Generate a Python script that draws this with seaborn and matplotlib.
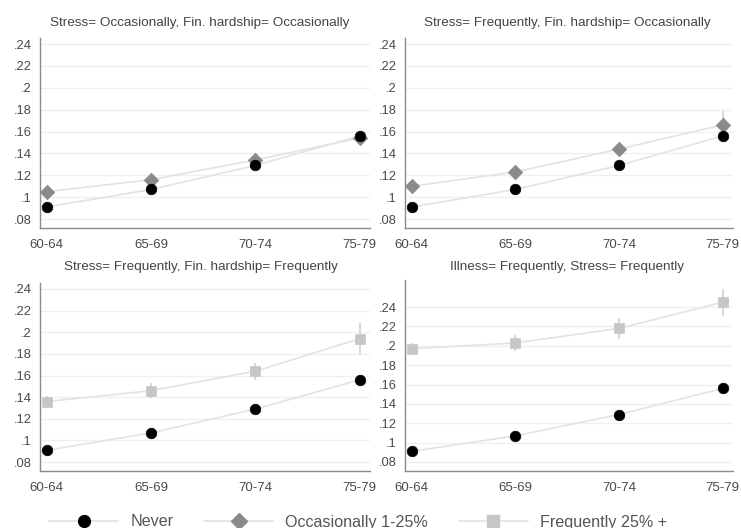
import numpy as np
import pandas as pd
import matplotlib
matplotlib.use("Agg")
import matplotlib.pyplot as plt
from matplotlib.lines import Line2D
import seaborn as sns

sns.set_style("white")
plt.rcParams['font.family'] = ['Liberation Sans', 'DejaVu Sans']

ages = ["60-64", "65-69", "70-74", "75-79"]
titles = ["Stress= Occasionally, Fin. hardship= Occasionally",
          "Stress= Frequently, Fin. hardship= Occasionally",
          "Stress= Frequently, Fin. hardship= Frequently",
          "Illness= Frequently, Stress= Frequently"]
groups = ["Never", "Occasionally 1-25%", "Frequently 25% +"]

never = [0.091, 0.107, 0.129, 0.156]
never_err = [0.002, 0.002, 0.002, 0.003]

p1_occ = [0.105, 0.116, 0.134, 0.154]
p1_occ_err = [0.003, 0.003, 0.004, 0.006]
p2_occ = [0.110, 0.123, 0.144, 0.166]
p2_occ_err = [0.004, 0.004, 0.005, 0.013]
p3_freq = [0.136, 0.146, 0.164, 0.194]
p3_freq_err = [0.005, 0.007, 0.008, 0.015]
p4_freq = [0.197, 0.203, 0.218, 0.245]
p4_freq_err = [0.006, 0.008, 0.011, 0.014]

panel_series = [("Occasionally 1-25%", p1_occ, p1_occ_err),
                ("Occasionally 1-25%", p2_occ, p2_occ_err),
                ("Frequently 25% +", p3_freq, p3_freq_err),
                ("Frequently 25% +", p4_freq, p4_freq_err)]

rows = []
for pi, (g, vals, errs) in enumerate(panel_series):
    for ai, a in enumerate(ages):
        rows.append(dict(panel=pi, age=ai, group="Never", value=never[ai], err=never_err[ai]))
        rows.append(dict(panel=pi, age=ai, group=g, value=vals[ai], err=errs[ai]))
df = pd.DataFrame(rows)

colors = {"Never": "#000000", "Occasionally 1-25%": "#8a8a8a", "Frequently 25% +": "#c6c6c6"}
markers = {"Never": "o", "Occasionally 1-25%": "D", "Frequently 25% +": "s"}
msize = {"Never": 58, "Occasionally 1-25%": 55, "Frequently 25% +": 55}

fig = plt.figure(figsize=(7.41, 5.28), dpi=100)
W, H = 741, 528
boxes = [(40, 38, 370, 228), (405, 38, 733, 228), (40, 283, 370, 471), (405, 280, 733, 471)]
ylims = [(0.0718, 0.2455), (0.0718, 0.2455), (0.0718, 0.2455), (0.0707, 0.268)]
title_y = [23, 23, 267, 267]
title_x = [200, 567, 201, 567]

tickc = "#4a4a4a"
for pi in range(4):
    x0, y0, x1, y1 = boxes[pi]
    ax = fig.add_axes([x0 / W, 1 - y1 / H, (x1 - x0) / W, (y1 - y0) / H])
    sub = df[df.panel == pi]
    for g in sub.group.unique():
        s = sub[sub.group == g]
        ax.vlines(s.age, s.value - s.err, s.value + s.err, color="#d4d4d4", lw=1.3, zorder=2)
        sns.lineplot(data=s, x="age", y="value", ax=ax, color="#e3e3e3", lw=1.2,
                     errorbar=None, zorder=2, legend=False)
    order = [g for g in groups if g in sub.group.unique()][::-1]
    for g in order:
        s = sub[sub.group == g]
        sns.scatterplot(data=s, x="age", y="value", ax=ax, color=colors[g], marker=markers[g],
                        s=msize[g], edgecolor=colors[g], linewidth=0.5, zorder=3, legend=False)
    ax.set_xlim(-0.065, 3.1)
    ax.set_ylim(*ylims[pi])
    yt = [0.08, 0.10, 0.12, 0.14, 0.16, 0.18, 0.20, 0.22, 0.24]
    ax.set_yticks(yt)
    ax.set_yticklabels([".08", ".1", ".12", ".14", ".16", ".18", ".2", ".22", ".24"])
    ax.set_xticks(range(4))
    ax.set_xticklabels(ages)
    ax.set_xlabel("")
    ax.set_ylabel("")
    ax.grid(axis="y", color="#efefef", lw=0.9)
    ax.set_axisbelow(True)
    for sp in ["top", "right"]:
        ax.spines[sp].set_visible(False)
    for sp in ["left", "bottom"]:
        ax.spines[sp].set_color("#8a8a8a")
        ax.spines[sp].set_linewidth(1.0)
    ax.tick_params(axis="both", colors="#8a8a8a", labelcolor=tickc, length=4, width=0.9,
                   labelsize=9.3, pad=2)
    ax.tick_params(axis="x", labelsize=9.5, pad=4)
    fig.text(title_x[pi] / W, 1 - title_y[pi] / H, titles[pi], ha="center", va="center",
             fontsize=9.7, color="#444444")

handles = [Line2D([0], [0], color="#e0e0e0", lw=1.2, marker=markers[g],
                  markersize=8.5 if g != "Occasionally 1-25%" else 8,
                  markerfacecolor=colors[g], markeredgecolor=colors[g]) for g in groups]
fig.legend(handles, groups, loc="center left", bbox_to_anchor=(49 / W, 1 - 522 / H),
           ncol=3, frameon=False, handlelength=4.3, handletextpad=0.75, columnspacing=1.9,
           prop={"size": 11.6}, labelcolor="#555555", borderaxespad=0, borderpad=0)

fig.savefig("out.png", dpi=100, facecolor="white")
